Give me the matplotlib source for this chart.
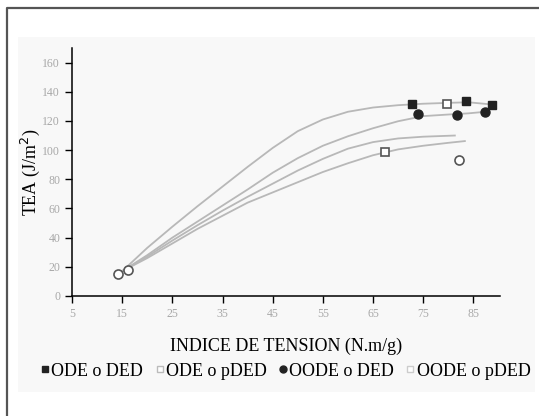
import matplotlib.pyplot as plt
from matplotlib.patches import Rectangle
from matplotlib.lines import Line2D

plt.rcParams['font.family'] = ['Liberation Serif', 'DejaVu Serif']

# measured points (indice de tension, TEA)
ode_ded_x = [72.7, 83.5, 88.7]
ode_ded_y = [131.5, 133.6, 131.0]
oode_ded_x = [74.0, 81.8, 87.3]
oode_ded_y = [125.0, 124.3, 126.0]
ode_pded_x = [79.8, 67.4]
ode_pded_y = [131.7, 99.0]
oode_pded_x = [82.1, 14.1, 16.2]
oode_pded_y = [93.0, 15.4, 18.1]

# trend curves
c1_x = [15, 20, 25, 30, 35, 40, 45, 50, 55, 60, 65, 70, 75, 80, 84, 88]
c1_y = [17, 33, 47.5, 61.5, 75, 88.5, 101.5, 113, 121, 126.3, 129.2, 130.8, 131.8, 132.4, 132.8, 131.5]
c2_x = [15, 20, 25, 30, 35, 40, 45, 50, 55, 60, 65, 70, 75, 80, 84, 88]
c2_y = [17, 28, 40, 51, 62, 73, 84.5, 94.5, 103, 109.5, 115, 119.8, 123.3, 124.4, 125.2, 126.5]
c3_x = [15, 20, 25, 30, 35, 40, 45, 50, 55, 60, 65, 70, 75, 81.3]
c3_y = [17, 27, 38, 48.5, 58.5, 68, 77, 86, 94, 101, 105.5, 108, 109.2, 110]
c4_x = [15, 20, 25, 30, 35, 40, 45, 50, 55, 60, 65, 70, 75, 80, 83.3]
c4_y = [17, 26, 36, 46, 55, 64, 71, 78, 85, 91, 96.5, 100.5, 103, 105, 106.2]

xticks = [5, 15, 25, 35, 45, 55, 65, 75, 85]
yticks = [0, 20, 40, 60, 80, 100, 120, 140, 160]

fig = plt.figure(figsize=(5.39, 4.16), dpi=100)

# light panel and frame
fig.patches.append(Rectangle((18 / 539, 1 - 392 / 416), 517 / 539, 355 / 416,
                             transform=fig.transFigure, facecolor='#f8f8f8',
                             edgecolor='none', zorder=-5))
fig.lines.append(Line2D([7 / 539, 7 / 539, 1], [0, 1 - 8 / 416, 1 - 8 / 416],
                        transform=fig.transFigure, color='#555555', lw=1.6))

ax = fig.add_axes([72 / 539, 120 / 416, 428 / 539, 248 / 416])
ax.set_facecolor('none')
ax.set_zorder(2)

for cx, cy in [(c1_x, c1_y), (c2_x, c2_y), (c3_x, c3_y), (c4_x, c4_y)]:
    ax.plot(cx, cy, color='#b8b8b8', lw=1.3, zorder=2)

ax.plot(ode_ded_x, ode_ded_y, 's', color='#222222', ms=6, zorder=3)
ax.plot(oode_ded_x, oode_ded_y, 'o', color='#222222', ms=6.5, zorder=3)
ax.plot(ode_pded_x, ode_pded_y, 's', mfc='white', mec='#555555', mew=1.2, ms=6, zorder=3)
ax.plot(oode_pded_x, oode_pded_y, 'o', mfc='white', mec='#555555', mew=1.2, ms=6.5, zorder=3)

ax.set_xlim(5, 90.3)
ax.set_ylim(0, 170)
ax.set_xticks(xticks)
ax.set_yticks(yticks)
ax.tick_params(direction='out', length=5, width=1, colors='black',
               labelcolor='#a8a8a8', labelsize=8.5)
for s in ['top', 'right']:
    ax.spines[s].set_visible(False)
for s in ['left', 'bottom']:
    ax.spines[s].set_linewidth(1.1)

ax.set_xlabel('INDICE DE TENSION (N.m/g)', fontsize=13, labelpad=13)
ax.set_ylabel('TEA (J/m$^2$)', fontsize=13)
ax.yaxis.set_label_coords(-0.07, 0.5)

handles = [
    Line2D([], [], ls='', marker='s', color='#222222', ms=5),
    Line2D([], [], ls='', marker='s', mfc='white', mec='#bbbbbb', ms=5),
    Line2D([], [], ls='', marker='o', color='#222222', ms=5),
    Line2D([], [], ls='', marker='s', mfc='white', mec='#cccccc', ms=5),
]
labels = ['ODE o DED', 'ODE o pDED', 'OODE o DED', 'OODE o pDED']
fig.legend(handles, labels, loc='center', bbox_to_anchor=(0.53, 1 - 371 / 416),
           ncol=4, frameon=False, fontsize=13, handlelength=0.5,
           handletextpad=0.1, columnspacing=0.65, borderaxespad=0)

fig.savefig('out.png', dpi=100)
